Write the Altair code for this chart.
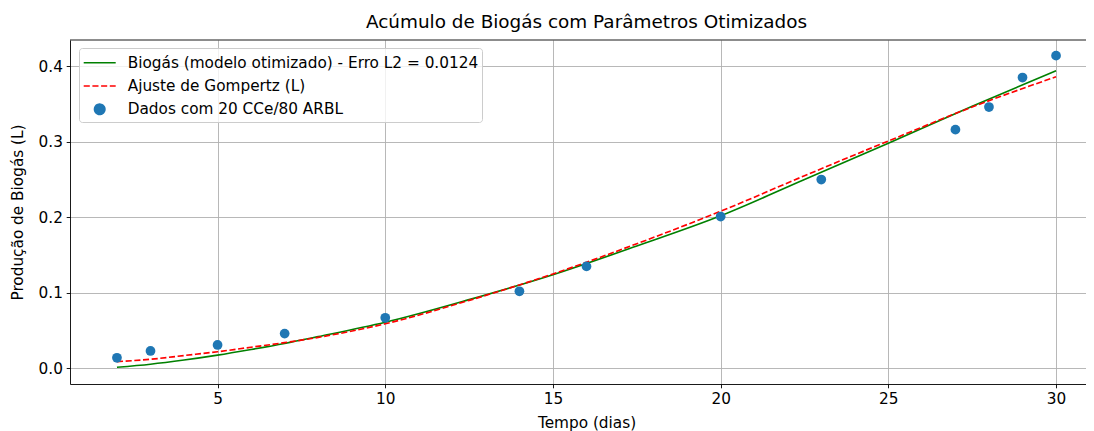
import altair as alt
import pandas as pd

# ---- data ----
labels = [
    "Biogás (modelo otimizado) - Erro L2 = 0.0124",
    "Ajuste de Gompertz (L)",
    "Dados com 20 CCe/80 ARBL",
]

data_t = [2, 3, 5, 7, 10, 14, 16, 20, 23, 27, 28, 29, 30]
data_y = [0.014, 0.023, 0.031, 0.046, 0.067, 0.102, 0.135, 0.201, 0.250, 0.316, 0.346, 0.385, 0.414]

model_t = [2, 3, 4, 5, 6, 7, 8, 10, 12.5, 15, 17.5, 20, 22.5, 25, 27.5, 30]
model_y = [0.0015, 0.0055, 0.011, 0.0175, 0.025, 0.033, 0.042, 0.061, 0.091, 0.124, 0.162, 0.202,
           0.250, 0.298, 0.347, 0.394]

gomp_t = [2, 3, 4, 5, 6, 7, 8, 10, 12.5, 15, 17.5, 20, 22.5, 25, 27.5, 30]
gomp_y = [0.009, 0.012, 0.017, 0.022, 0.028, 0.034, 0.041, 0.059, 0.090, 0.125, 0.165, 0.208,
          0.255, 0.301, 0.346, 0.386]

x_ticks = [5, 10, 15, 20, 25, 30]
y_ticks = [0.0, 0.1, 0.2, 0.3, 0.4]

GREEN = "#008000"
RED = "#ff0000"
BLUE = "#1f77b4"
FONT = "DejaVu Sans"
PLOT_W = 1033
PLOT_H = 344
FS = 15.3

model_df = pd.DataFrame({"t": model_t, "y": model_y})
gomp_df = pd.DataFrame({"t": gomp_t, "y": gomp_y})
pts_df = pd.DataFrame({"t": data_t, "y": data_y})
legend_df = pd.DataFrame({"t": pd.Series([], dtype=float), "y": pd.Series([], dtype=float),
                          "serie": pd.Series([], dtype=str)})

xscale = alt.Scale(domain=[0.6, 31.4], nice=False, zero=False)
yscale = alt.Scale(domain=[-0.0207, 0.4347], nice=False, zero=False)

xaxis = alt.Axis(values=x_ticks, format="d", title="Tempo (dias)")
yaxis = alt.Axis(values=y_ticks, format=".1f", title="Produção de Biogás (L)")

X = alt.X("t:Q", scale=xscale, axis=xaxis)
Y = alt.Y("y:Q", scale=yscale, axis=yaxis)

# legend symbols (symbolSize 400 -> unit = 10px); drawn left-aligned in the column
line_path = "M-1,0L2.2,0"
circ_path = "M0.08,0A0.52,0.52 0 1,1 1.12,0A0.52,0.52 0 1,1 0.08,0Z"

leg = alt.Legend(
    title=None,
    orient="none",
    legendX=9,
    legendY=8,
    labelFontSize=FS,
    labelFont=FONT,
    labelColor="black",
    labelLimit=0,
    symbolSize=400,
    symbolStrokeWidth=1.6,
    labelOffset=23,
    rowPadding=3.3,
    padding=3.7,
    fillColor="rgba(255,255,255,0.8)",
    strokeColor="#cccccc",
    cornerRadius=3,
)

top_spine = alt.Chart(pd.DataFrame({"a": [0]})).mark_rule(color="black", strokeWidth=0.9).encode(
    y=alt.value(0), x=alt.value(0), x2=alt.value(PLOT_W)
)

green_line = alt.Chart(model_df).mark_line(
    color=GREEN, strokeWidth=1.65, interpolate="monotone"
).encode(x=X, y=Y)

red_line = alt.Chart(gomp_df).mark_line(
    color=RED, strokeWidth=1.65, strokeDash=[6.1, 2.6], interpolate="monotone"
).encode(x=X, y=Y)

points = alt.Chart(pts_df).mark_circle(color=BLUE, opacity=1, size=95).encode(x=X, y=Y)

legend_layer = alt.Chart(legend_df).mark_point(filled=True, opacity=1, size=400).encode(
    x=X,
    y=Y,
    stroke=alt.Stroke("serie:N", scale=alt.Scale(domain=labels, range=[GREEN, RED, BLUE]), legend=leg),
    fill=alt.Fill("serie:N", scale=alt.Scale(domain=labels, range=["transparent", "transparent", BLUE]), legend=leg),
    shape=alt.Shape("serie:N", scale=alt.Scale(domain=labels, range=[line_path, line_path, circ_path]), legend=leg),
    strokeDash=alt.StrokeDash("serie:N", scale=alt.Scale(domain=labels, range=[[1, 0], [6.1, 2.6], [1, 0]]), legend=leg),
)

chart = alt.layer(green_line, red_line, points, legend_layer, top_spine).properties(
    width=PLOT_W,
    height=PLOT_H,
    title=alt.TitleParams(
        "Acúmulo de Biogás com Parâmetros Otimizados",
        fontSize=18.4,
        fontWeight="normal",
        font=FONT,
        color="black",
        anchor="middle",
        offset=8,
    ),
    padding={"left": 62, "top": 32, "right": -17, "bottom": 47},
    autosize=alt.AutoSizeParams(type="none"),
).configure_view(stroke="transparent", strokeWidth=0).configure_axis(
    labelFont=FONT,
    titleFont=FONT,
    labelFontSize=FS,
    titleFontSize=FS,
    titleFontWeight="normal",
    labelColor="black",
    titleColor="black",
    domainColor="black",
    domainWidth=0.9,
    tickColor="black",
    tickWidth=0.9,
    tickSize=3.8,
    labelPadding=3.8,
    gridColor="#b0b0b0",
    gridWidth=0.9,
    grid=True,
).configure_axisX(titlePadding=9).configure_axisY(titlePadding=13)

chart.save("out.html", embed_options={"renderer": "svg", "actions": False})
